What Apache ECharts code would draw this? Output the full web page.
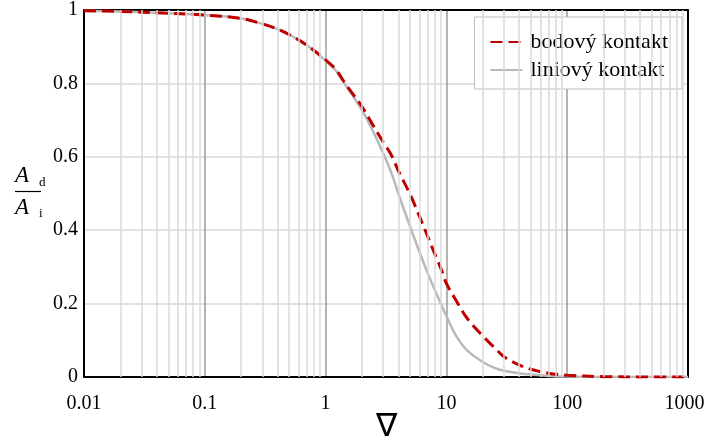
<!DOCTYPE html>
<html>
<head>
<meta charset="utf-8">
<script src="https://cdn.jsdelivr.net/npm/echarts@6/dist/echarts.min.js"></script>
<style>
html,body{margin:0;padding:0;background:#fff;}
#main{width:705px;height:439px;}
</style>
</head>
<body>
<div id="main"></div>
<script>
// ---- data ----
const xValues = [0.01, 0.02, 0.05, 0.1, 0.2, 0.3, 0.4, 0.5, 0.7, 1, 1.2, 1.5, 2, 2.5, 3, 3.5, 4, 5, 6, 7, 8, 9, 10, 12, 15, 20, 25, 30, 40, 50, 70, 100, 200, 500, 1000];
const bodovy = [0.998, 0.996, 0.991, 0.986, 0.977, 0.962, 0.948, 0.933, 0.904, 0.864, 0.840, 0.793, 0.737, 0.683, 0.640, 0.605, 0.562, 0.498, 0.437, 0.383, 0.336, 0.296, 0.255, 0.209, 0.158, 0.112, 0.080, 0.055, 0.033, 0.021, 0.0105, 0.005, 0.001, 0.0, 0.0];
const liniovy = [0.998, 0.996, 0.991, 0.986, 0.977, 0.962, 0.948, 0.933, 0.904, 0.862, 0.837, 0.790, 0.727, 0.666, 0.609, 0.557, 0.500, 0.410, 0.340, 0.283, 0.238, 0.200, 0.166, 0.113, 0.071, 0.041, 0.025, 0.017, 0.010, 0.0065, 0.003, 0.0012, 0.0, 0.0, 0.0];
const seriesNames = ['bodový kontakt', 'liniový kontakt'];
const xTickLabels = ['0.01', '0.1', '1', '10', '100', '1000'];
const xTickValues = [0.01, 0.1, 1, 10, 100, 1000];
const minorGridX = [0.02,0.03,0.04,0.05,0.06,0.07,0.08,0.09,
                    0.2,0.3,0.4,0.5,0.6,0.7,0.8,0.9,
                    2,3,4,5,6,7,8,9,
                    20,30,40,50,60,70,80,90,
                    200,300,400,500,600,700,800,900];
const xAxisName = '∇';

const pair = (xs, ys) => xs.map((x, i) => [x, ys[i]]);
const SERIF = '"Liberation Serif", "Times New Roman", serif';
const frameLine = {show: true, onZero: false, lineStyle: {color: '#000', width: 2}};

const chart = echarts.init(document.getElementById('main'), null, {renderer: 'canvas'});
chart.setOption({
  animation: false,
  backgroundColor: '#fff',
  grid: {left: 84, right: 17, top: 10, bottom: 62, outerBoundsMode: 'none', containLabel: false},
  legend: {
    data: seriesNames,
    orient: 'vertical',
    right: 23, top: 17,
    padding: [14, 14, 8, 15],
    itemGap: 6,
    itemWidth: 32, itemHeight: 14,
    backgroundColor: '#fff',
    borderColor: '#bdbdbd', borderWidth: 1,
    itemStyle: {opacity: 0},
    textStyle: {fontFamily: SERIF, fontSize: 22, color: '#000', padding: [0, 0, 0, 3]}
  },
  xAxis: [{
    type: 'log', logBase: 10, min: 0.01, max: 1000,
    name: xAxisName, nameLocation: 'middle', nameGap: 35, nameMoveOverlap: false,
    nameTextStyle: {fontFamily: SERIF, fontSize: 32, color: '#000'},
    axisLine: frameLine,
    axisTick: {show: false},
    axisLabel: {
      fontFamily: SERIF, fontSize: 20, color: '#000', margin: 17,
      formatter: v => {
        const i = xTickValues.findIndex(t => Math.abs(Math.log10(t) - Math.log10(v)) < 1e-6);
        if (i < 0) return '';
        return i === xTickLabels.length - 1 ? '{r|' + xTickLabels[i] + '}' : xTickLabels[i];
      },
      rich: {r: {fontFamily: SERIF, fontSize: 20, color: '#000', padding: [0, 7, 0, 0]}}
    },
    splitLine: {show: true, lineStyle: {color: '#9a9a9a', width: 1.5}},
    minorTick: {show: false}, minorSplitLine: {show: false}
  }, {
    type: 'log', logBase: 10, min: 0.01, max: 1000, position: 'top',
    axisLine: frameLine, axisTick: {show: false}, axisLabel: {show: false}, splitLine: {show: false}
  }],
  yAxis: [{
    type: 'value', min: 0, max: 1, interval: 0.2,
    axisLine: frameLine, axisTick: {show: false},
    axisLabel: {fontFamily: SERIF, fontSize: 20, color: '#000', margin: 6},
    splitLine: {show: true, lineStyle: {color: '#d9d9d9', width: 1.5}}
  }, {
    type: 'value', min: 0, max: 1, interval: 0.2, position: 'right',
    axisLine: frameLine, axisTick: {show: false}, axisLabel: {show: false}, splitLine: {show: false}
  }],
  graphic: [
    {type: 'text', x: 15, y: 164, style: {text: 'A', font: 'italic 23px ' + SERIF, fill: '#000', textVerticalAlign: 'top'}},
    {type: 'text', x: 39, y: 176, style: {text: 'd', font: '13px ' + SERIF, fill: '#000', textVerticalAlign: 'top'}},
    {type: 'line', shape: {x1: 15, y1: 191.5, x2: 41, y2: 191.5}, style: {stroke: '#000', lineWidth: 1.2}},
    {type: 'text', x: 15, y: 196, style: {text: 'A', font: 'italic 23px ' + SERIF, fill: '#000', textVerticalAlign: 'top'}},
    {type: 'text', x: 39, y: 207, style: {text: 'i', font: '13px ' + SERIF, fill: '#000', textVerticalAlign: 'top'}}
  ],
  series: [
    {
      name: '_minorgrid', type: 'line', data: [], z: 1, silent: true,
      markLine: {
        silent: true, symbol: 'none', label: {show: false},
        lineStyle: {color: '#dadada', width: 1.5, type: 'solid'},
        data: minorGridX.map(v => ({xAxis: v}))
      }
    },
    {
      name: seriesNames[1], type: 'line', data: pair(xValues, liniovy), z: 3,
      smooth: 0.35, showSymbol: false, symbol: 'none',
      lineStyle: {color: '#b9b9b9', width: 2.5}, itemStyle: {color: '#b9b9b9'}
    },
    {
      name: seriesNames[0], type: 'line', data: pair(xValues, bodovy), z: 4,
      smooth: 0.35, showSymbol: false, symbol: 'none',
      lineStyle: {color: '#c00000', width: 3, type: [12, 6]}, itemStyle: {color: '#c00000'}
    }
  ]
});
</script>
</body>
</html>
